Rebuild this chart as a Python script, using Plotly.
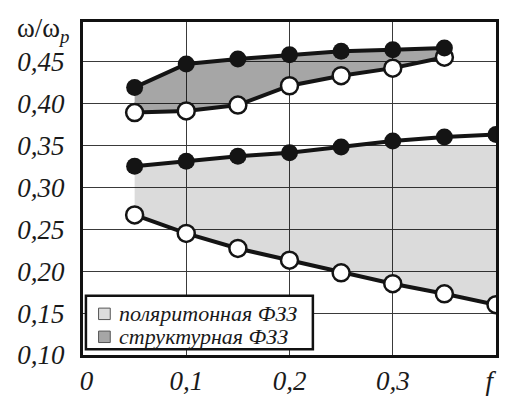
import numpy as np
import plotly.graph_objects as go

# ---- data ----
f_vals = [0.05, 0.10, 0.15, 0.20, 0.25, 0.30, 0.35, 0.40]
pol_upper = [0.325, 0.331, 0.337, 0.341, 0.348, 0.355, 0.360, 0.363]
pol_lower = [0.267, 0.245, 0.227, 0.213, 0.198, 0.185, 0.173, 0.160]
pol_cap = 0.35

f_str = [0.05, 0.10, 0.15, 0.20, 0.25, 0.30, 0.35]
str_upper = [0.419, 0.447, 0.453, 0.458, 0.462, 0.464, 0.466]
str_lower = [0.389, 0.391, 0.398, 0.421, 0.433, 0.442, 0.455]

x_ticks = [0, 0.1, 0.2, 0.3, 0.4]
x_ticktext = ["\u00a00", "0,1", "0,2", "0,3", "f\u00a0\u00a0"]
y_ticks = [0.10, 0.15, 0.20, 0.25, 0.30, 0.35, 0.40, 0.45]
y_ticktext = ["0,10", "0,15", "0,20", "0,25", "0,30", "0,35", "0,40", "0,45"]

legend_names = ["поляритонная ФЗЗ", "структурная ФЗЗ"]
legend_colors = ["#dcdcdc", "#a6a6a6"]

LINE = "#141414"
LIGHT = "rgba(0,0,0,0.14)"
DARK = "rgba(0,0,0,0.35)"
FONT = "Liberation Serif"

fig = go.Figure()

# fills
pol_top = list(np.minimum(pol_upper, pol_cap))
fig.add_trace(go.Scatter(x=f_vals + f_vals[::-1], y=pol_top + pol_lower[::-1],
                         fill="toself", fillcolor=LIGHT, mode="none",
                         showlegend=False, hoverinfo="skip"))
fig.add_trace(go.Scatter(x=f_str + f_str[::-1], y=str_upper + str_lower[::-1],
                         fill="toself", fillcolor=DARK, mode="none",
                         showlegend=False, hoverinfo="skip"))

# open-circle curves
for xs, ys in [(f_vals, pol_lower), (f_str, str_lower)]:
    fig.add_trace(go.Scatter(x=xs, y=ys, mode="lines+markers",
                             line=dict(color=LINE, width=4),
                             marker=dict(size=17, color="white",
                                         line=dict(color=LINE, width=2.5)),
                             showlegend=False))
# filled-circle curves
for xs, ys in [(f_vals, pol_upper), (f_str, str_upper)]:
    fig.add_trace(go.Scatter(x=xs, y=ys, mode="lines+markers",
                             line=dict(color=LINE, width=4),
                             marker=dict(size=17, color=LINE),
                             showlegend=False))

axis_common = dict(showline=True, linewidth=3, linecolor="#111111", mirror=True,
                   showgrid=True, gridcolor="#3a3a3a", gridwidth=1.2,
                   zeroline=False, ticks="", ticklabeloverflow="allow",
                   tickfont=dict(family=FONT, size=27, color="#1a1a1a", style="italic"))

fig.update_xaxes(range=[0, 0.4], tickvals=x_ticks, ticktext=x_ticktext, **axis_common)
fig.update_yaxes(range=[0.1, 0.497], tickvals=y_ticks, ticktext=y_ticktext,
                 ticklabelstandoff=10, **axis_common)

# y-axis title in the corner
fig.add_annotation(xref="paper", yref="paper", x=-0.165, y=0.975,
                   xanchor="left", yanchor="middle", showarrow=False,
                   text="ω/ω<sub><i>p</i></sub>",
                   font=dict(family=FONT, size=27, color="#1a1a1a"))

# legend box (drawn manually for exact row spacing)
fig.add_shape(type="rect", xref="paper", yref="paper",
              x0=0.0071, x1=0.5566, y0=0.0172, y1=0.178,
              fillcolor="white", line=dict(color="#111111", width=2.5))
row_y = [0.1236, 0.0546]
for name, col, yc in zip(legend_names, legend_colors, row_y):
    fig.add_shape(type="rect", xref="paper", yref="paper",
                  x0=0.0377, x1=0.066, y0=yc - 0.0172, y1=yc + 0.0172,
                  fillcolor=col, line=dict(color="#555555", width=1))
    fig.add_annotation(xref="paper", yref="paper", x=0.083, y=yc,
                       xanchor="left", yanchor="middle", showarrow=False,
                       text=name,
                       font=dict(family=FONT, size=22, color="#1a1a1a", style="italic"))

fig.update_layout(
    width=508, height=397,
    margin=dict(l=75, r=9, t=14, b=35),
    paper_bgcolor="white", plot_bgcolor="white",
    showlegend=False,
)

fig.write_html("out.html")
